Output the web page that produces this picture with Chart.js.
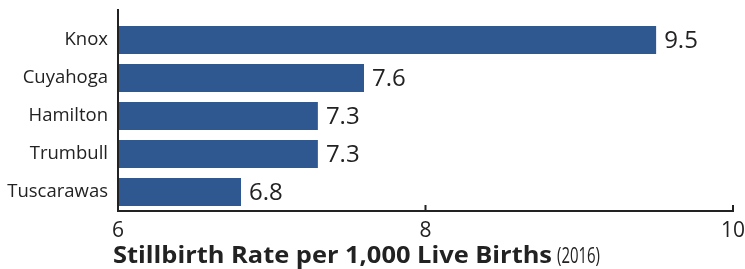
<!DOCTYPE html>
<html>
<head>
<meta charset="utf-8">
<script src="https://cdn.jsdelivr.net/npm/chart.js@4"></script>
<style>
  html, body { margin: 0; padding: 0; background: #fff; }
  #wrap { position: relative; width: 745px; height: 269px; }
</style>
</head>
<body>
<div id="wrap"><canvas id="chart" width="745" height="269"></canvas></div>
<script>
const counties = ['Knox', 'Cuyahoga', 'Hamilton', 'Trumbull', 'Tuscarawas'];
const rates = [9.5, 7.6, 7.3, 7.3, 6.8];
const xTicks = [6, 8, 10];

const barColor = '#2f5890';
const inkColor = '#222222';

// text squeezed or stretched to a given width
function fillFitted(ctx, text, x, y, width) {
    const w = ctx.measureText(text).width;
    ctx.save();
    ctx.translate(x, y);
    ctx.scale(width / w, 1);
    ctx.fillText(text, 0, 0);
    ctx.restore();
}

// values right of the bars
const valueLabels = {
    id: 'valueLabels',
    afterDatasetsDraw(chart) {
        const ctx = chart.ctx;
        const meta = chart.getDatasetMeta(0);
        ctx.save();
        ctx.font = '24px "Open Sans"';
        ctx.fillStyle = inkColor;
        ctx.textBaseline = 'middle';
        meta.data.forEach(function(bar, i) {
            ctx.fillText(rates[i].toFixed(1), bar.x + 8, bar.y + 1);
        });
        ctx.restore();
    }
};

// axis lines, short upward ticks and the axis title
const axisMarks = {
    id: 'axisMarks',
    afterDraw(chart) {
        const ctx = chart.ctx;
        const area = chart.chartArea;
        const x = chart.scales.x;
        ctx.save();
        ctx.strokeStyle = inkColor;
        ctx.lineWidth = 2;
        ctx.beginPath();
        ctx.moveTo(area.left, 9);
        ctx.lineTo(area.left, area.bottom + 1);
        xTicks.forEach(function(v) {
            const px = x.getPixelForValue(v);
            ctx.moveTo(px, area.bottom);
            ctx.lineTo(px, area.bottom - 6);
        });
        ctx.moveTo(area.left - 1, area.bottom);
        ctx.lineTo(area.right + 1, area.bottom);
        ctx.stroke();

        ctx.fillStyle = inkColor;
        ctx.textBaseline = 'alphabetic';
        ctx.font = 'bold 23px "Open Sans"';
        fillFitted(ctx, 'Stillbirth Rate per 1,000 Live Births', 113, 263, 439);
        ctx.font = '22px "Open Sans"';
        fillFitted(ctx, '(2016)', 557, 263, 43);
        ctx.restore();
    }
};

new Chart(document.getElementById('chart').getContext('2d'), {
    type: 'bar',
    data: {
        labels: counties,
        datasets: [{
            data: rates,
            backgroundColor: barColor,
            borderWidth: 0,
            barPercentage: 0.74,
            categoryPercentage: 1
        }]
    },
    options: {
        indexAxis: 'y',
        responsive: false,
        animation: false,
        layout: { padding: { top: 21, right: 12, left: 0, bottom: 0 } },
        plugins: {
            legend: { display: false },
            tooltip: { enabled: false }
        },
        scales: {
            x: {
                min: 6,
                max: 10,
                afterFit(scale) { scale.height = 58; },
                afterBuildTicks(scale) {
                    scale.ticks = xTicks.map(function(v) { return { value: v }; });
                },
                grid: { display: false },
                border: { display: false },
                ticks: {
                    color: inkColor,
                    font: { family: 'Open Sans', size: 21 },
                    padding: -1,
                    maxRotation: 0
                }
            },
            y: {
                afterFit(scale) { scale.width = 118; },
                grid: { display: false },
                border: { display: false },
                ticks: {
                    color: inkColor,
                    font: { family: 'Open Sans', size: 18.5 },
                    padding: 2
                }
            }
        }
    },
    plugins: [valueLabels, axisMarks]
});
</script>
</body>
</html>
